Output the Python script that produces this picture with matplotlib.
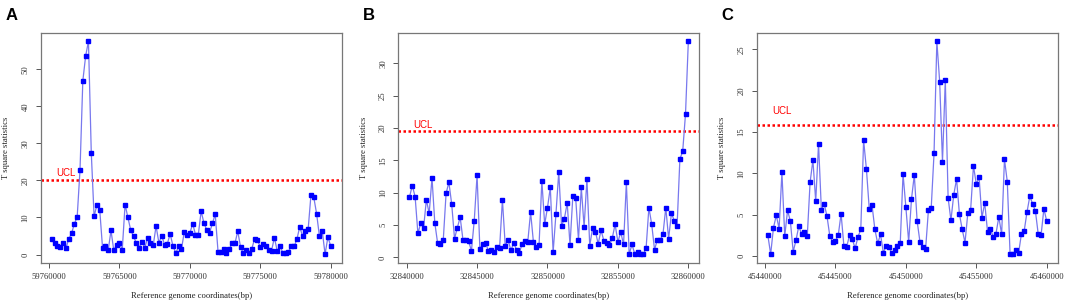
import matplotlib
matplotlib.use("Agg")
import matplotlib.pyplot as plt

# T square statistics, 100 windows per region (200 bp step)
startA = 59760000
valsA = [4.2, 3.0, 2.3, 2.1, 3.1, 1.7, 4.2, 5.7, 8.3, 10.2,
         22.8, 46.9, 53.6, 57.6, 27.5, 10.3, 13.4, 12.1, 1.8, 2.2,
         1.1, 6.5, 1.1, 2.7, 3.1, 1.3, 13.5, 10.0, 6.6, 4.9,
         3.1, 1.9, 3.5, 1.9, 4.4, 3.1, 2.5, 7.7, 3.2, 5.1,
         2.7, 2.9, 5.6, 2.3, 0.4, 2.2, 1.4, 6.0, 5.2, 5.8,
         8.3, 5.4, 5.4, 11.7, 8.5, 6.6, 5.9, 8.4, 10.9, 0.8,
         0.8, 1.5, 0.3, 1.4, 3.2, 3.0, 6.3, 2.0, 0.3, 1.3,
         0.5, 1.6, 4.3, 3.8, 2.1, 2.9, 2.3, 1.3, 1.0, 4.6,
         1.0, 2.2, 0.5, 0.5, 0.8, 2.2, 2.2, 4.1, 7.5, 5.0,
         6.4, 6.9, 16.2, 15.4, 11.0, 4.9, 6.3, 0.1, 4.7, 2.3]

startB = 32840000
valsB = [9.3, 11.1, 9.4, 3.7, 5.3, 4.5, 8.9, 6.8, 12.3, 5.3,
         2.2, 2.0, 2.7, 9.9, 11.6, 8.2, 2.9, 4.6, 6.2, 2.7,
         2.7, 2.5, 1.0, 5.7, 12.7, 1.3, 2.0, 2.3, 1.0, 1.1,
         0.8, 1.6, 1.5, 8.9, 1.8, 2.7, 1.1, 2.2, 1.2, 0.7,
         2.1, 2.6, 2.4, 7.0, 2.4, 1.6, 1.9, 11.8, 5.1, 7.7,
         10.8, 0.8, 6.7, 13.2, 4.9, 6.0, 8.4, 1.9, 9.5, 9.2,
         2.7, 10.8, 4.7, 12.1, 1.8, 4.5, 4.0, 2.1, 4.2, 2.6,
         2.3, 1.9, 3.0, 5.1, 2.4, 3.9, 2.0, 11.6, 0.5, 2.0,
         0.5, 0.8, 0.6, 0.5, 1.4, 7.7, 5.1, 1.2, 2.7, 2.7,
         3.6, 7.7, 2.9, 6.8, 5.7, 4.8, 15.2, 16.4, 22.2, 33.4]

startC = 45440000
valsC = [2.5, 0.2, 3.4, 4.9, 3.3, 10.1, 2.4, 5.5, 4.2, 0.5,
         1.9, 3.6, 2.6, 2.9, 2.4, 8.9, 11.6, 6.6, 13.6, 5.6,
         6.3, 4.8, 2.4, 1.7, 1.8, 2.5, 5.1, 1.2, 1.1, 2.5,
         2.0, 0.9, 2.3, 3.2, 14.0, 10.5, 5.7, 6.1, 3.2, 1.5,
         2.6, 0.4, 1.2, 1.1, 0.3, 0.7, 1.2, 1.5, 9.9, 5.9,
         1.7, 6.9, 9.8, 4.2, 1.7, 1.1, 0.8, 5.5, 5.8, 12.4,
         26.0, 21.1, 11.4, 21.3, 7.0, 4.3, 7.4, 9.3, 5.1, 3.2,
         1.6, 5.2, 5.6, 10.9, 8.7, 9.5, 4.6, 6.4, 2.9, 3.3,
         2.3, 2.7, 4.7, 2.6, 11.7, 9.0, 0.2, 0.2, 0.7, 0.3,
         2.6, 3.0, 5.3, 7.2, 6.3, 5.4, 2.6, 2.5, 5.7, 4.2]

ucls = [20.2, 19.5, 15.8]
ucl_label_y = [22.0, 20.5, 17.6]
ytick_steps = [10, 5, 5]
letters = ["A", "B", "C"]

serif = "Liberation Serif"
fig = plt.figure(figsize=(10.65, 3.04), dpi=100)
lefts = [0.0382, 0.374, 0.7105]

panels = [(startA, valsA), (startB, valsB), (startC, valsC)]
for i, (start, vals) in enumerate(panels):
    xs = list(range(start + 200, start + 200 * (len(vals) + 1), 200))
    ax = fig.add_axes([lefts[i], 0.1359, 0.2828, 0.7566])
    ax.plot(xs, vals, color="#7878ee", lw=0.9, zorder=2)
    ax.plot(xs, vals, "s", color="#0000ff", ms=2.5, mec="#0000ff", zorder=3)
    ax.axhline(ucls[i], color="#ff0000", lw=1.8, linestyle=(0, (1, 1)), zorder=1)
    ax.text(start + 500, ucl_label_y[i], "UCL",
            color="#ff0000", fontsize=7, family="Liberation Sans", va="center", ha="left")

    dx = (xs[-1] - xs[0]) * 0.04
    ax.set_xlim(xs[0] - dx, xs[-1] + dx)
    dy = (max(vals) - min(vals)) * 0.04
    ax.set_ylim(min(vals) - dy, max(vals) + dy)
    ax.set_xticks(range(start, start + 20001, 5000))
    ax.set_xticklabels([str(t) for t in range(start, start + 20001, 5000)])
    step = ytick_steps[i]
    yt = list(range(0, int(max(vals)) + 1, step))
    ax.set_yticks(yt)
    ax.set_yticklabels([str(t) for t in yt], rotation=90, va="center")

    for lab in ax.get_xticklabels() + ax.get_yticklabels():
        lab.set_family(serif)
        lab.set_fontsize(6.2)
        lab.set_color("#333333")
    ax.tick_params(length=3.6, width=0.7, color="#555555")
    ax.tick_params(axis="x", pad=4.0)
    ax.tick_params(axis="y", pad=4.5)
    for sp in ax.spines.values():
        sp.set_color("#777777")
        sp.set_linewidth(0.9)

    ax.set_xlabel("Reference genome coordinates(bp)", family=serif, fontsize=6.2,
                  color="#222222", labelpad=8)
    ax.set_ylabel("T square statistics", family=serif, fontsize=6.2,
                  color="#222222", labelpad=8)

    fig.text(lefts[i] - 0.033, 0.975, letters[i], fontsize=12, fontweight="bold",
             family="Liberation Sans", va="top", ha="left")

fig.savefig("out.png", dpi=100)
